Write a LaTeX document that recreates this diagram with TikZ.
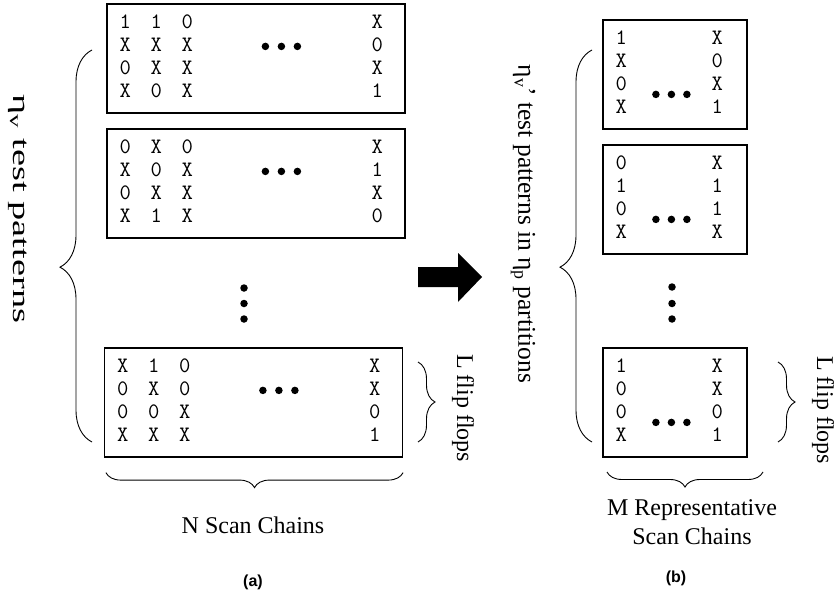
\documentclass[tikz,border=0pt]{standalone}
\usepackage{fontspec}
\setmainfont{Liberation Serif}
\setsansfont{Liberation Sans}
\usetikzlibrary{decorations.pathreplacing,positioning,calc}

\begin{document}
\begin{tikzpicture}[x=1pt,y=-1pt,
  scanbox/.style={draw,line width=1.2pt,minimum width=298pt,minimum height=109pt,inner sep=0pt},
  repbox/.style={scanbox,minimum width=144pt},
  bit/.style={font=\ttfamily\fontsize{22}{22}\selectfont,inner sep=0pt},
  lbl/.style={font=\fontsize{24}{29}\selectfont,align=center,inner sep=0pt},
  caplbl/.style={font=\fontsize{16}{16}\selectfont\sffamily\bfseries,inner sep=0pt},
  brc/.style={decorate,decoration={brace,amplitude=#1},line width=0.9pt},
  bigbrc/.style={decorate,decoration={brace,amplitude=32,aspect=0.446},line width=0.9pt},
  blob/.style={circle,fill,inner sep=0pt,minimum size=7.5pt}]
  \useasboundingbox (0,0) rectangle (840,599);
  % (a) all N scan chains
  \node[scanbox] (a1) at (256,58.5)  {};
  \node[scanbox] (a2) at (256,183.5) {};
  \node[scanbox] (a3) at (253.5,402.5) {};
  \foreach \bx/\rows in {a1/{1/1/1/0/X,2/X/X/X/0,3/0/X/X/X,4/X/0/X/1},
                         a2/{1/0/X/0/X,2/X/0/X/1,3/0/X/X/X,4/X/1/X/0},
                         a3/{1/X/1/0/X,2/0/X/0/X,3/0/0/X/0,4/X/X/X/1}}{
    \foreach \r/\p/\q/\s/\t in \rows{
      \node[bit] (\bx-\r-1) at ([shift={(19,18.5+23*\r-23)}]\bx.north west) {\p};
      \node[bit] (\bx-\r-2) at ([shift={(50,18.5+23*\r-23)}]\bx.north west) {\q};
      \node[bit] (\bx-\r-3) at ([shift={(81,18.5+23*\r-23)}]\bx.north west) {\s};
      \node[bit] (\bx-\r-4) at ([shift={(271,18.5+23*\r-23)}]\bx.north west) {\t};
    }
    \foreach \k in {-1,0,1}
      \node[blob] (\bx-d\k) at ([shift={(175+16*\k,43)}]\bx.north west) {};
  }
  \foreach \y [count=\k] in {288,303.5,319} \node[blob] (av\k) at (244,\y) {};
  \draw[bigbrc] (92,442) -- (92,50);
  \node[lbl,rotate=-90] (nv) at (18,209)
    {\scalebox{1.6}[1]{η\textsubscript{v} test patterns}};
  \draw[brc=15] (a3.south east) ++(0,15) -- ($(a3.south west)+(2,15)$);
  \node[lbl] (nsc) at (253,525) {N Scan Chains};
  \draw[brc=17] (418,362) -- (418,442);
  \node[lbl,rotate=-90] (lff1) at (463,408) {L flip flops};
  \node[caplbl] (cap-a) at (253,582) {(a)};
  % transform arrow
  \fill (418,267) -- (458,267) -- (458,253) -- (482,277) -- (458,302) -- (458,287) -- (418,287) -- cycle;
  % (b) representative chains
  \node[repbox] (b1) at (675,74.5)  {};
  \node[repbox] (b2) at (675,199.5) {};
  \node[repbox] (b3) at (675,402.5) {};
  \foreach \bx/\rows in {b1/{1/1/X,2/X/0,3/0/X,4/X/1},
                         b2/{1/0/X,2/1/1,3/0/1,4/X/X},
                         b3/{1/1/X,2/0/X,3/0/0,4/X/1}}{
    \foreach \r/\p/\t in \rows{
      \node[bit] (\bx-\r-1) at ([shift={(19,18.5+23*\r-23)}]\bx.north west) {\p};
      \node[bit] (\bx-\r-2) at ([shift={(115,18.5+23*\r-23)}]\bx.north west) {\t};
    }
    \foreach \k in {-1,0,1}
      \node[blob] (\bx-d\k) at ([shift={(69+15.5*\k,75)}]\bx.north west) {};
  }
  \foreach \y [count=\k] in {287,303.5,319} \node[blob] (bv\k) at (672,\y) {};
  \draw[bigbrc] (592,442) -- (592,50);
  \node[lbl,rotate=-90,font=\fontsize{25.5}{30}\selectfont] (nvp) at (523,224)
    {η\textsubscript{v}’ test patterns in η\textsubscript{p} partitions};
  \draw[brc=15] (763,472) -- (607,472);
  \node[lbl] (msc) at (692,522) {M Representative\\Scan Chains};
  \draw[brc=17] (778,362) -- (778,442);
  \node[lbl,rotate=-90] (lff2) at (823,410) {L flip flops};
  \node[caplbl] (cap-b) at (676,578) {(b)};
\end{tikzpicture}
\end{document}
